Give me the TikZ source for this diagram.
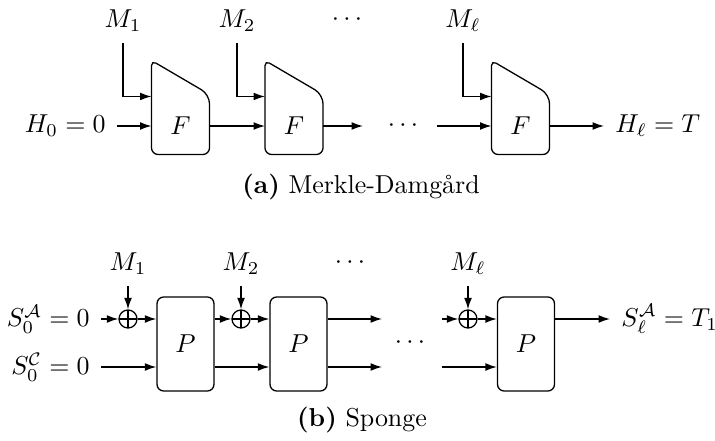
\documentclass[tikz,border=0pt]{standalone}
\usepackage{fontspec}
\usetikzlibrary{arrows.meta,calc}
\begin{document}
\begin{tikzpicture}[x=0.386pt,y=-0.386pt,
  arr/.style={-{Latex[length=4.4pt,width=3pt]}, line width=0.5pt},
  ln/.style={line width=0.5pt},
  frame/.style={minimum width=22.0pt, minimum height=35.9pt, inner sep=0pt, draw=none},
  pbox/.style={draw, line width=0.5pt, rounded corners=2.6pt, minimum width=22.0pt, minimum height=36.3pt, inner sep=0pt},
  xor/.style={draw, line width=0.5pt, circle, minimum size=6.95pt, inner sep=0pt,
    path picture={\draw[line width=0.5pt] (path picture bounding box.north) -- (path picture bounding box.south)
      (path picture bounding box.west) -- (path picture bounding box.east);}},
  lbl/.style={inner sep=4.2pt}
]
\useasboundingbox (0,0) rectangle (715,441);

% ---------- (a) Merkle-Damgard ----------
\coordinate (rowA) at (0,126);
\node[frame] (F1) at (180.5,107.5) {};
\node[frame] (F2) at (294,107.5) {};
\node[frame] (F3) at (520.5,107.5) {};
\foreach \f in {F1,F2,F3}{
  \draw[ln] (\f.west) [rounded corners=2pt] -- (\f.north west)
    [rounded corners=3.6pt] -- ($(\f.north east)+(0,34)$)
    [rounded corners=2.6pt] -- (\f.south east) -- (\f.south west) -- cycle;
  \node (\f t) at (\f.center |- rowA) {$F$};
}

\node[lbl, anchor=south] (M1a) at (123,43) {$M_1$};
\node[lbl, anchor=south] (M2a) at (237,43) {$M_2$};
\node[lbl, anchor=south] (Mla) at (463,43) {$M_\ell$};
\node (dotsA) at (347,20) {$\cdots$};
\node[lbl, anchor=east] (H0) at (117,126) {$H_0=0$};
\node[lbl, anchor=west] (Hl) at (604,126) {$H_\ell=T$};
\node (dotsB) at (403,126) {$\cdots$};
\coordinate (a1) at (363,126);
\coordinate (a2) at (437,126);

\draw[arr] (M1a.south) |- ($(F1.north west)+(0,36)$);
\draw[arr] (M2a.south) |- ($(F2.north west)+(0,36)$);
\draw[arr] (Mla.south) |- ($(F3.north west)+(0,36)$);
\draw[arr] (H0.east) -- (F1.west |- rowA);
\draw[arr] (F1.east |- rowA) -- (F2.west |- rowA);
\draw[arr] (F2.east |- rowA) -- (a1);
\draw[arr] (a2) -- (F3.west |- rowA);
\draw[arr] (F3.east |- rowA) -- (Hl.west);

\node (capA) at (361,187) {\textbf{(a)} Merkle-Damgård};

% ---------- (b) Sponge ----------
\coordinate (up) at (0,319);
\coordinate (lo) at (0,367);
\node[pbox] (P1) at (185.5,344) {$P$};
\node[pbox] (P2) at (298.5,344) {$P$};
\node[pbox] (P3) at (526,344) {$P$};
\node[xor] (X1) at (128,319) {};
\node[xor] (X2) at (241,319) {};
\node[xor] (X3) at (468,319) {};

\node[lbl, anchor=south] (M1b) at (128,286) {$M_1$};
\node[lbl, anchor=south] (M2b) at (241,286) {$M_2$};
\node[lbl, anchor=south] (Mlb) at (468,286) {$M_\ell$};
\node (dotsC) at (350,263) {$\cdots$};
\node (dotsD) at (410,343) {$\cdots$};
\node[lbl, anchor=east] (SA) at (101,319) {$S_0^{\mathcal{A}}=0$};
\node[lbl, anchor=east] (SC) at (101,367) {$S_0^{\mathcal{C}}=0$};
\node[lbl, anchor=west] (SL) at (610,319) {$S_\ell^{\mathcal{A}}=T_1$};
\coordinate (e1) at (382,319);
\coordinate (e2) at (382,367);
\coordinate (s1) at (442,319);
\coordinate (s2) at (442,367);

\draw[arr] (M1b.south) -- (X1.north);
\draw[arr] (M2b.south) -- (X2.north);
\draw[arr] (Mlb.south) -- (X3.north);
\draw[arr] (SA.east |- up) -- (X1.west);
\draw[arr] (X1.east) -- (P1.west |- up);
\draw[arr] (SC.east |- lo) -- (P1.west |- lo);
\draw[arr] (P1.east |- up) -- (X2.west);
\draw[arr] (X2.east) -- (P2.west |- up);
\draw[arr] (P1.east |- lo) -- (P2.west |- lo);
\draw[arr] (P2.east |- up) -- (e1);
\draw[arr] (P2.east |- lo) -- (e2);
\draw[arr] (s1) -- (X3.west);
\draw[arr] (s2) -- (P3.west |- lo);
\draw[arr] (X3.east) -- (P3.west |- up);
\draw[arr] (P3.east |- up) -- (SL.west |- up);

\node (capB) at (362,420) {\textbf{(b)} Sponge};
\end{tikzpicture}
\end{document}
